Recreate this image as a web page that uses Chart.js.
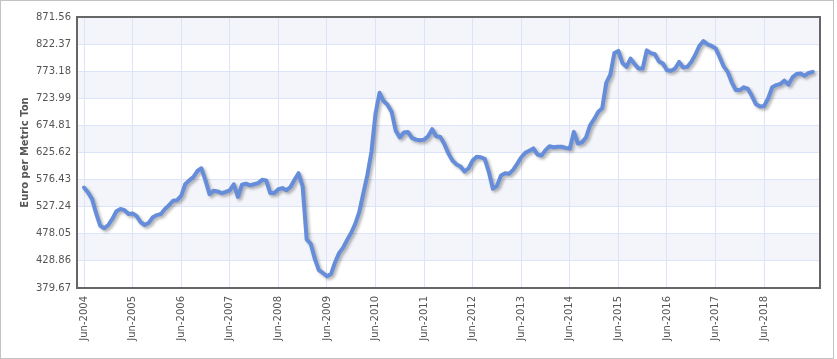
<!DOCTYPE html>
<html><head><meta charset="utf-8">
<script src="https://cdn.jsdelivr.net/npm/chart.js@4"></script>
<style>
html,body{margin:0;padding:0;background:#fff;}
#wrap{position:relative;width:837px;height:359px;}
#frame{position:absolute;left:0;top:0;width:834px;height:359px;box-sizing:border-box;border:1px solid #c3c3c3;pointer-events:none;}
canvas{position:absolute;left:0;top:0;}
</style></head><body>
<div id="wrap"><canvas id="c" width="837" height="359"></canvas><div id="frame"></div></div>
<script>
// Monthly prices, Jun-2004 .. Jun-2019 (Euro per metric ton)
const prices = [
 562,553,541,515,493,488,494,505,519,523,521,514,
 515,510,499,494,498,508,512,514,523,530,538,539,
 547,568,575,581,592,597,575,550,556,555,552,554,
 557,568,545,567,569,566,568,570,576,575,552,552,
 559,561,557,563,576,588,564,468,460,433,412,407,
 401,405,426,443,453,467,480,496,518,552,585,627,
 696,734,719,712,699,665,653,662,663,652,649,648,
 649,655,668,655,654,641,624,611,604,600,591,597,
 611,618,617,614,590,560,565,584,588,587,594,605,
 617,625,629,633,622,620,630,637,635,636,636,634,
 633,663,642,644,653,675,686,699,706,752,767,806,
 810,788,781,796,786,778,778,811,806,804,791,787,
 775,774,778,790,780,781,790,803,819,828,822,819,
 815,799,782,772,753,739,739,744,741,728,713,709,
 710,724,744,748,750,756,749,762,768,769,765,770,
 772
];
const xTickLabels = ['Jun-2004','Jun-2005','Jun-2006','Jun-2007','Jun-2008','Jun-2009','Jun-2010','Jun-2011','Jun-2012','Jun-2013','Jun-2014','Jun-2015','Jun-2016','Jun-2017','Jun-2018'];
const yTickLabels = ['379.67','428.86','478.05','527.24','576.43','625.62','674.81','723.99','773.18','822.37','871.56'];
const yTickValues = yTickLabels.map(Number);
const xTickValues = xTickLabels.map((_, k) => k * 12);

const bandPlugin = {
  id: 'bands',
  beforeDraw(chart) {
    const {ctx, chartArea: a, scales: {y}} = chart;
    ctx.save();
    ctx.fillStyle = '#f4f5fb';
    for (let k = yTickValues.length - 1; k > 0; k -= 2) {
      const t = y.getPixelForValue(yTickValues[k]);
      const b = y.getPixelForValue(yTickValues[k - 1]);
      ctx.fillRect(a.left, t, a.right - a.left, b - t);
    }
    ctx.restore();
  },
  beforeDatasetDraw(chart) {
    const ctx = chart.ctx;
    ctx.save();
    ctx.shadowColor = 'rgba(0,0,0,0.30)';
    ctx.shadowBlur = 3;
    ctx.shadowOffsetX = 2;
    ctx.shadowOffsetY = 2;
  },
  afterDatasetDraw(chart) { chart.ctx.restore(); },
  afterDraw(chart) {
    const {ctx, chartArea: a} = chart;
    ctx.save();
    ctx.strokeStyle = '#666666';
    ctx.lineWidth = 2;
    ctx.strokeRect(a.left, a.top, a.right - a.left, a.bottom - a.top);
    ctx.restore();
  }
};

new Chart(document.getElementById('c'), {
  type: 'line',
  data: {
    datasets: [{
      data: prices.map((v, i) => ({x: i, y: v})),
      borderColor: 'rgb(102,141,217)',
      borderWidth: 4,
      pointRadius: 0,
      tension: 0,
      borderJoinStyle: 'round',
      borderCapStyle: 'round',
      fill: false
    }]
  },
  options: {
    responsive: false,
    animation: false,
    devicePixelRatio: 1,
    layout: {padding: {left: 0, top: 17, right: 17, bottom: 0}},
    plugins: {legend: {display: false}, tooltip: {enabled: false}},
    scales: {
      x: {
        type: 'linear',
        min: -1.73,
        max: 181.8,
        afterFit(s) { s.height = 71; },
        afterBuildTicks(s) { s.ticks = xTickValues.map(v => ({value: v})); },
        grid: {color: '#dbe4f8', lineWidth: 1, drawTicks: false},
        border: {display: false},
        ticks: {
          autoSkip: false,
          minRotation: 90, maxRotation: 90,
          padding: 8,
          color: '#555',
          font: {family: 'DejaVu Sans', size: 10},
          callback: (v) => xTickLabels[Math.round(v / 12)]
        }
      },
      y: {
        min: yTickValues[0],
        max: yTickValues[yTickValues.length - 1],
        afterFit(s) { s.width = 77; },
        afterBuildTicks(s) { s.ticks = yTickValues.map(v => ({value: v})); },
        grid: {color: '#dbe4f8', lineWidth: 1, drawTicks: false},
        border: {display: false},
        ticks: {
          padding: 6,
          color: '#555',
          font: {family: 'DejaVu Sans', size: 10},
          callback: (v) => yTickLabels[yTickValues.indexOf(v)]
        },
        title: {
          display: true,
          text: 'Euro per Metric Ton',
          color: '#555',
          font: {family: 'DejaVu Sans', size: 10, weight: 'bold'},
          padding: {top: 19, bottom: 0}
        }
      }
    }
  },
  plugins: [bandPlugin]
});
</script>
</body></html>
